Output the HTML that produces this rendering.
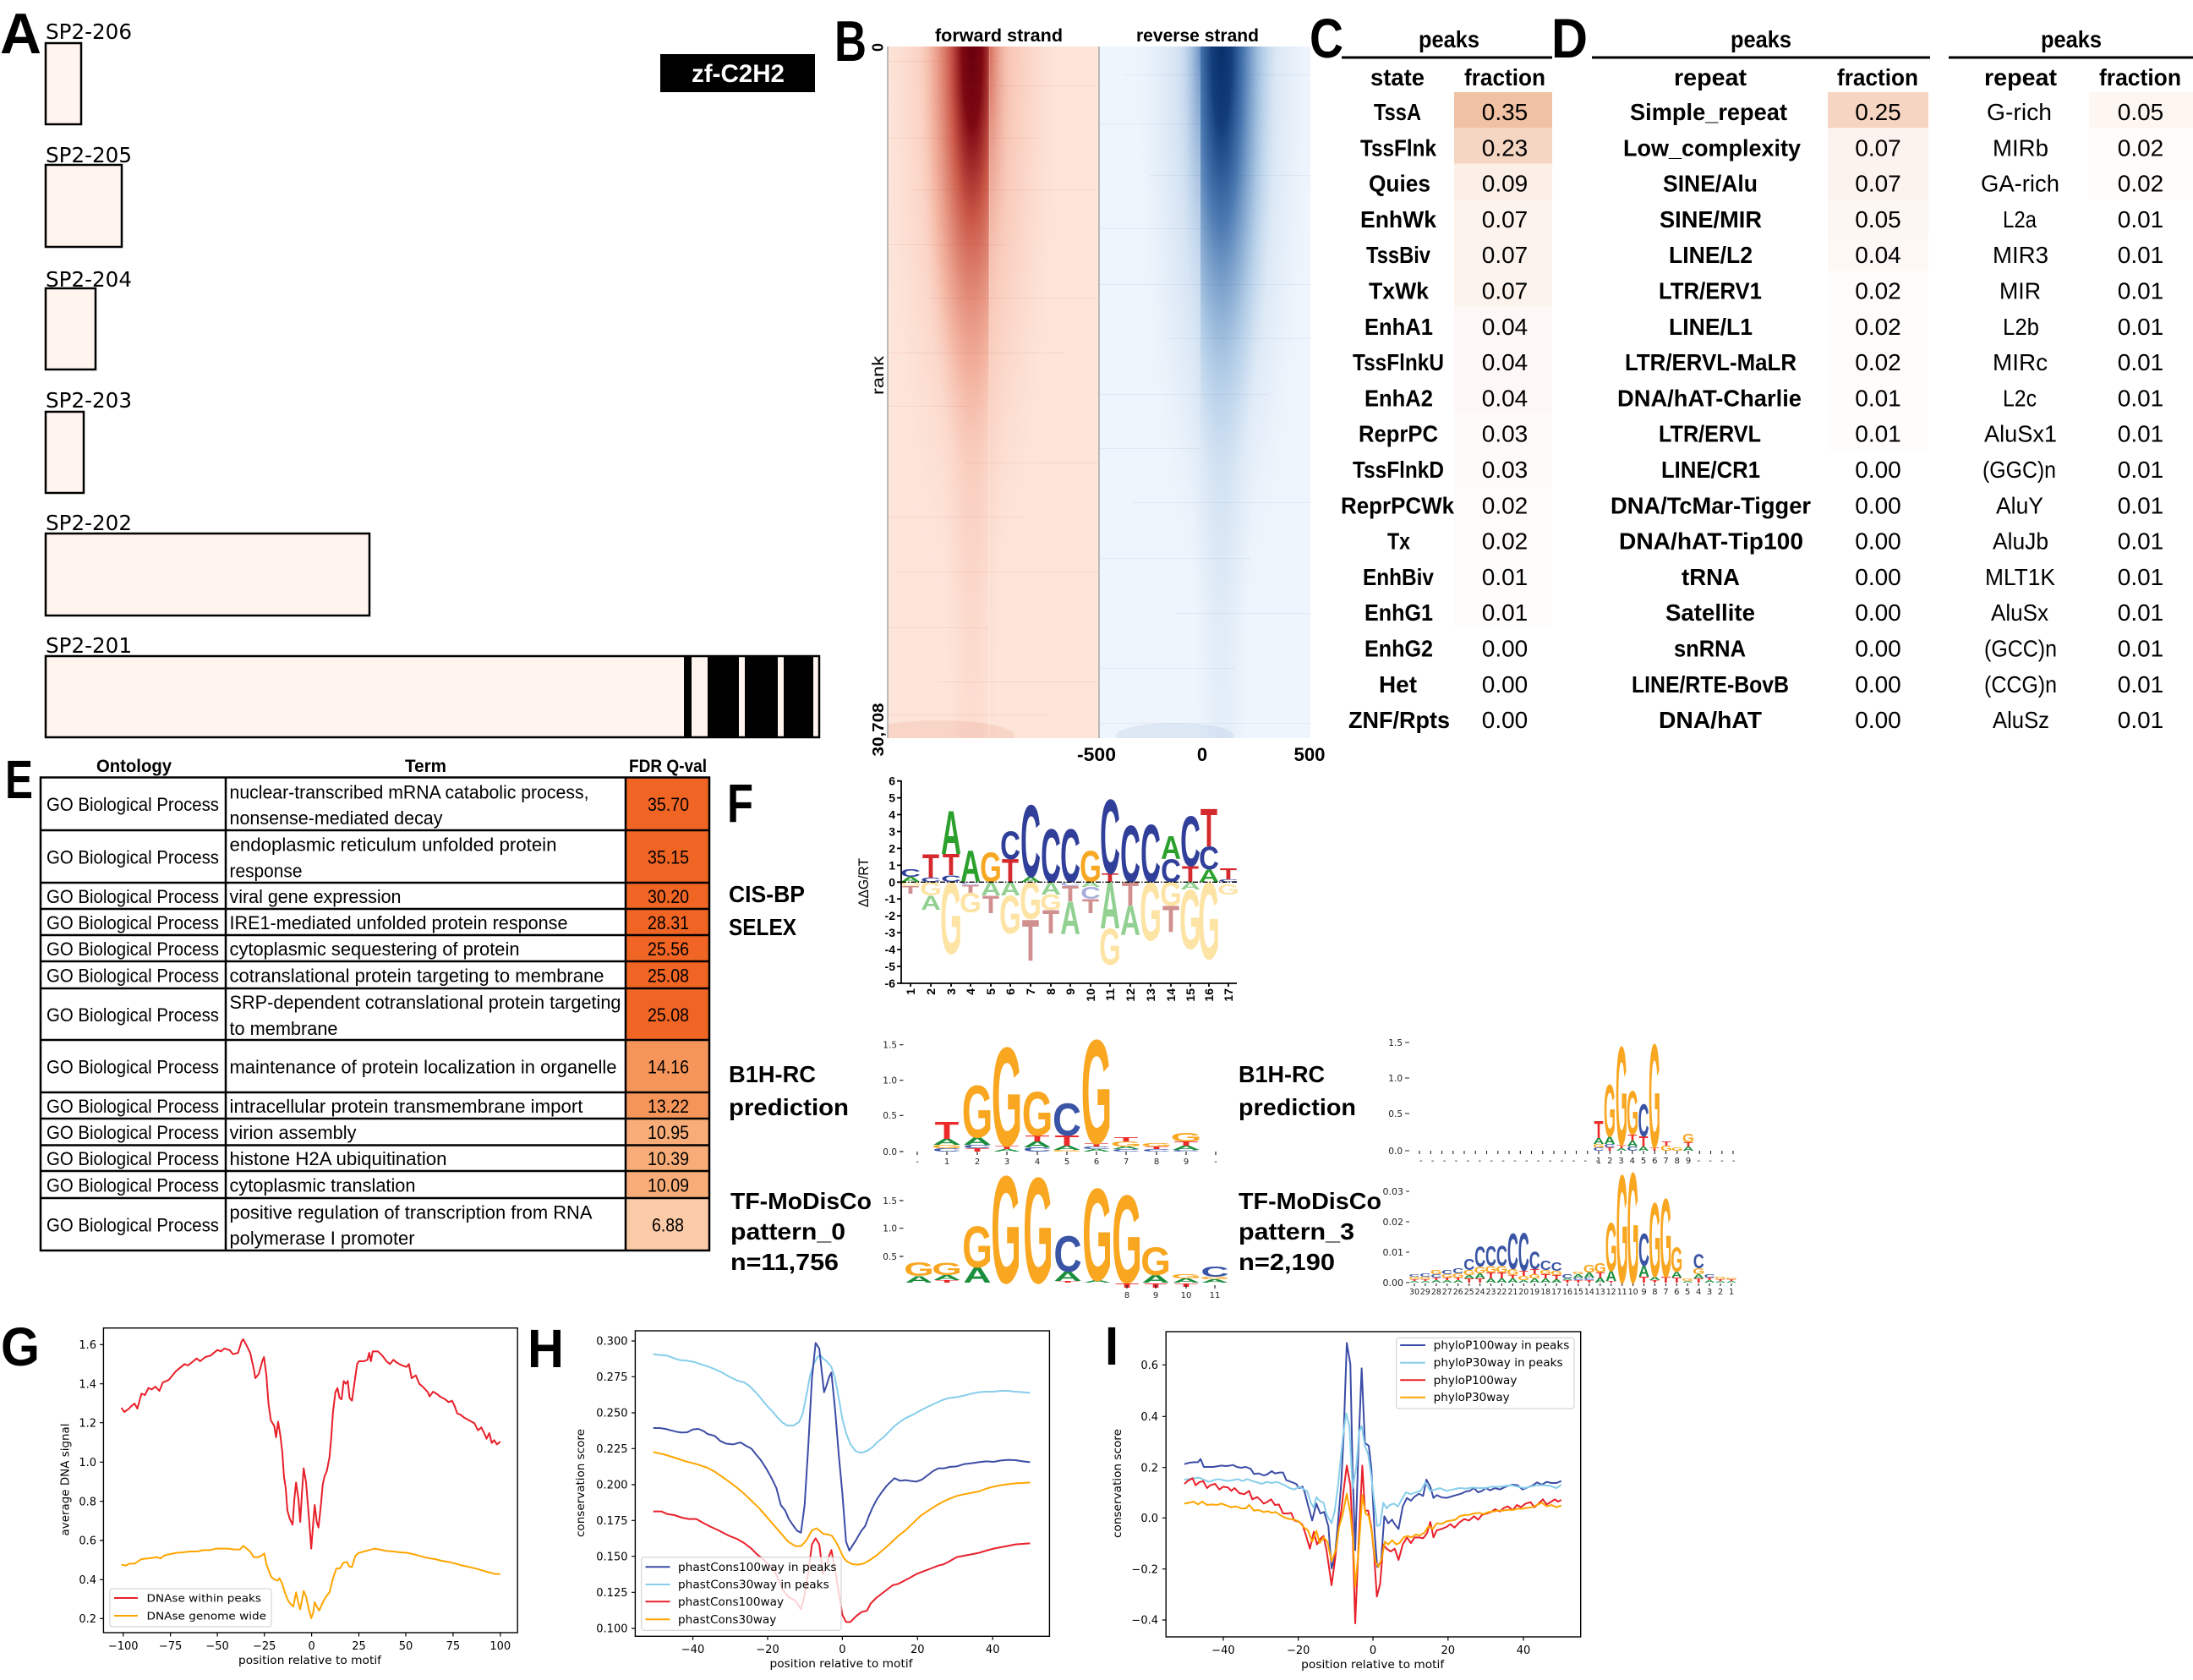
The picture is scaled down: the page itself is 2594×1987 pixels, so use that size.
<!DOCTYPE html>
<html><head><meta charset="utf-8"><style>
html,body{margin:0;padding:0;background:#fff}
svg{display:block}
.s{font-family:"Liberation Sans",Arial,sans-serif}
.b{font-weight:bold}
.dj{font-family:"DejaVu Sans","Liberation Sans",sans-serif}
.L{font-family:"Liberation Sans",Arial,sans-serif;font-weight:bold;font-size:100px;text-anchor:middle}
.A1{fill:#2ca02c}.C1{fill:#303f9a}.G1{fill:#f7a823}.T1{fill:#d42a2e}
.A2{fill:#92d192}.C2{fill:#a9aedb}.G2{fill:#fde4a5}.T2{fill:#d19090}
.A3{fill:#1a8e3d}.C3{fill:#3a55a5}.G3{fill:#f9a620}.T3{fill:#ec2a2a}
</style></head><body>
<svg width="2594" height="1987" viewBox="0 0 2594 1987" xmlns="http://www.w3.org/2000/svg">
<rect width="2594" height="1987" fill="#fff"/>
<defs>
<clipPath id="cf"><rect x="1050" y="55" width="250" height="818"/></clipPath>
<clipPath id="cfl"><rect x="1050" y="55" width="120" height="818"/></clipPath>
<clipPath id="cfr"><rect x="1170" y="55" width="130" height="818"/></clipPath>
<clipPath id="cr"><rect x="1300" y="55" width="250" height="818"/></clipPath>
<clipPath id="crl"><rect x="1300" y="55" width="120" height="818"/></clipPath>
<clipPath id="crr"><rect x="1420" y="55" width="130" height="818"/></clipPath>
<radialGradient id="rh"><stop offset="0" stop-color="#e06a50" stop-opacity=".6"/><stop offset=".5" stop-color="#f29a80" stop-opacity=".3"/><stop offset="1" stop-color="#fbd0c0" stop-opacity="0"/></radialGradient>
<radialGradient id="rc"><stop offset="0" stop-color="#67000d"/><stop offset=".18" stop-color="#7d0812"/><stop offset=".4" stop-color="#c75040" stop-opacity=".9"/><stop offset=".75" stop-color="#eea08a" stop-opacity=".5"/><stop offset="1" stop-color="#fbd0c0" stop-opacity="0"/></radialGradient>
<radialGradient id="rt"><stop offset="0" stop-color="#ee9c84" stop-opacity=".55"/><stop offset="1" stop-color="#fbd0c0" stop-opacity="0"/></radialGradient>
<radialGradient id="rl"><stop offset="0" stop-color="#c94a3a" stop-opacity=".7"/><stop offset="1" stop-color="#fbd0c0" stop-opacity="0"/></radialGradient>
<radialGradient id="bh"><stop offset="0" stop-color="#4f7fbf" stop-opacity=".55"/><stop offset=".5" stop-color="#8fb4db" stop-opacity=".3"/><stop offset="1" stop-color="#c6dbef" stop-opacity="0"/></radialGradient>
<radialGradient id="bc"><stop offset="0" stop-color="#08306b"/><stop offset=".18" stop-color="#123d7a"/><stop offset=".4" stop-color="#3f6fab" stop-opacity=".9"/><stop offset=".75" stop-color="#9dc0e0" stop-opacity=".5"/><stop offset="1" stop-color="#c6dbef" stop-opacity="0"/></radialGradient>
<radialGradient id="bt"><stop offset="0" stop-color="#a3c2e2" stop-opacity=".55"/><stop offset="1" stop-color="#c6dbef" stop-opacity="0"/></radialGradient>
<radialGradient id="bl"><stop offset="0" stop-color="#3f6fb0" stop-opacity=".65"/><stop offset="1" stop-color="#c6dbef" stop-opacity="0"/></radialGradient>
</defs>

<!-- Panel letters -->
<g class="s b" fill="#000" font-size="66">
<text x="0" y="63" font-size="68" textLength="49" lengthAdjust="spacingAndGlyphs">A</text>
<text x="987" y="72" font-size="68" textLength="38" lengthAdjust="spacingAndGlyphs">B</text>
<text x="1549" y="68" textLength="40" lengthAdjust="spacingAndGlyphs">C</text>
<text x="1835" y="68" textLength="43" lengthAdjust="spacingAndGlyphs">D</text>
<text x="6" y="944" font-size="64" textLength="33" lengthAdjust="spacingAndGlyphs">E</text>
<text x="860" y="972" font-size="64" textLength="31" lengthAdjust="spacingAndGlyphs">F</text>
<text x="1" y="1615" font-size="64" textLength="46" lengthAdjust="spacingAndGlyphs">G</text>
<text x="624" y="1617" font-size="64" textLength="43" lengthAdjust="spacingAndGlyphs">H</text>
<text x="1307" y="1614" font-size="64" textLength="16" lengthAdjust="spacingAndGlyphs">I</text>
</g>

<!-- Panel A -->
<g class="dj" font-size="25" fill="#000">
<text x="54" y="46" textLength="102" lengthAdjust="spacingAndGlyphs">SP2-206</text>
<text x="54" y="192" textLength="102" lengthAdjust="spacingAndGlyphs">SP2-205</text>
<text x="54" y="339" textLength="102" lengthAdjust="spacingAndGlyphs">SP2-204</text>
<text x="54" y="482" textLength="102" lengthAdjust="spacingAndGlyphs">SP2-203</text>
<text x="54" y="627" textLength="102" lengthAdjust="spacingAndGlyphs">SP2-202</text>
<text x="54" y="772" textLength="102" lengthAdjust="spacingAndGlyphs">SP2-201</text>
</g>
<g fill="#fff5ee" stroke="#000" stroke-width="2.5">
<rect x="54" y="51" width="42" height="96"/>
<rect x="54" y="195" width="90" height="97"/>
<rect x="54" y="341" width="59" height="96"/>
<rect x="54" y="487" width="45" height="96"/>
<rect x="54" y="631" width="383" height="97"/>
<rect x="54" y="776" width="915" height="96"/>
</g>
<g fill="#000">
<rect x="809" y="776" width="9" height="96"/>
<rect x="837" y="776" width="37" height="96"/>
<rect x="881" y="776" width="39" height="96"/>
<rect x="927" y="776" width="35" height="96"/>
<rect x="781" y="64" width="183" height="45"/>
</g>
<text x="818" y="97" class="s b" font-size="30" fill="#fff" textLength="110" lengthAdjust="spacingAndGlyphs">zf-C2H2</text>

<!-- Panel B heatmap -->
<rect x="1050" y="55" width="250" height="818" fill="#fde5da"/>
<rect x="1300" y="55" width="250" height="818" fill="#eff5fc"/>
<g clip-path="url(#cf)">
<ellipse cx="1150" cy="55" rx="110" ry="700" fill="url(#rh)"/>
<ellipse cx="1150" cy="55" rx="40" ry="1250" fill="url(#rt)"/>
<ellipse cx="1110" cy="870" rx="90" ry="18" fill="#e07a60" opacity=".15"/>
</g>
<g clip-path="url(#cfl)"><ellipse cx="1150" cy="55" rx="65" ry="520" fill="url(#rc)"/></g>
<g clip-path="url(#cfr)"><ellipse cx="1170" cy="55" rx="28" ry="330" fill="url(#rl)"/></g>
<g clip-path="url(#cr)">
<ellipse cx="1447" cy="55" rx="105" ry="700" fill="url(#bh)"/>
<ellipse cx="1445" cy="55" rx="40" ry="1250" fill="url(#bt)"/>
<ellipse cx="1390" cy="870" rx="70" ry="15" fill="#7fa3d0" opacity=".15"/>
</g>
<g clip-path="url(#crr)"><ellipse cx="1445" cy="55" rx="65" ry="520" fill="url(#bc)"/></g>
<g clip-path="url(#crl)"><ellipse cx="1420" cy="55" rx="26" ry="330" fill="url(#bl)"/></g>
<path d="M1050 72.5H1180M1120 101.5H1300M1050 163.5H1230M1080 224.5H1300M1050 289.5H1190M1100 352.5H1300M1050 417.5H1260M1050 480.5H1150M1140 547.5H1300M1050 611.5H1210M1060 676.5H1300M1050 742.5H1170M1110 806.5H1300M1050 845.5H1240" stroke="#c0392b" stroke-opacity=".09" stroke-width="1"/>
<path d="M1330 88.5H1550M1300 146.5H1470M1360 207.5H1550M1300 270.5H1450M1300 336.5H1550M1380 400.5H1550M1300 466.5H1500M1300 530.5H1420M1340 594.5H1550M1300 660.5H1480M1390 725.5H1550M1300 790.5H1460M1300 855.5H1550" stroke="#2b5797" stroke-opacity=".07" stroke-width="1"/>
<line x1="1170" y1="55" x2="1170" y2="873" stroke="#fff" stroke-opacity=".3" stroke-width="1"/>
<line x1="1050" y1="55" x2="1050" y2="873" stroke="#a8a8a8" stroke-width="1.5"/>
<line x1="1300" y1="55" x2="1300" y2="873" stroke="#a8a8a8" stroke-width="1.5"/>
<g class="s b" fill="#000">
<text x="1106" y="49" font-size="21" textLength="151" lengthAdjust="spacingAndGlyphs">forward strand</text>
<text x="1344" y="49" font-size="21" textLength="145" lengthAdjust="spacingAndGlyphs">reverse strand</text>
<text transform="translate(1044.5,56) rotate(-90)" font-size="18" text-anchor="middle">0</text>
<text transform="translate(1045,863) rotate(-90)" font-size="18" text-anchor="middle" textLength="63" lengthAdjust="spacingAndGlyphs">30,708</text>
<text x="1297" y="900" font-size="22" text-anchor="middle" textLength="46" lengthAdjust="spacingAndGlyphs">-500</text>
<text x="1422" y="900" font-size="22" text-anchor="middle">0</text>
<text x="1549" y="900" font-size="22" text-anchor="middle" textLength="37" lengthAdjust="spacingAndGlyphs">500</text>
</g>
<text class="s" transform="translate(1045,444) rotate(-90)" font-size="19" text-anchor="middle" textLength="46" lengthAdjust="spacingAndGlyphs">rank</text>

<!-- Panels C / D cell colours -->
<g>
<rect x="1720" y="109" width="116" height="42.3" fill="#f0c1a3"/>
<rect x="1720" y="151.3" width="116" height="42.3" fill="#f5d6c3"/>
<rect x="1720" y="193.6" width="116" height="42.3" fill="#fbefe7"/>
<rect x="1720" y="235.9" width="116" height="126.9" fill="#fcf3ed"/>
<rect x="1720" y="362.8" width="116" height="126.9" fill="#fdf8f5"/>
<rect x="1720" y="489.7" width="116" height="84.6" fill="#fefaf7"/>
<rect x="1720" y="574.3" width="116" height="84.6" fill="#fefbf9"/>
<rect x="1720" y="658.9" width="116" height="84.6" fill="#fffdfc"/>
<rect x="2162" y="109" width="119" height="42.3" fill="#f6d5c2"/>
<rect x="2162" y="151.3" width="119" height="84.6" fill="#fdf3ee"/>
<rect x="2162" y="235.9" width="119" height="42.3" fill="#fdf7f3"/>
<rect x="2162" y="278.2" width="119" height="42.3" fill="#fef8f5"/>
<rect x="2162" y="320.5" width="119" height="126.9" fill="#fefcfa"/>
<rect x="2162" y="447.4" width="119" height="84.6" fill="#fffdfc"/>
<rect x="2471" y="109" width="123" height="42.3" fill="#fdf6f1"/>
<rect x="2471" y="151.3" width="123" height="84.6" fill="#fffcfa"/>
</g>
<g stroke="#000" stroke-width="3">
<line x1="1587" y1="68" x2="1836" y2="68"/>
<line x1="1883" y1="68" x2="2283" y2="68"/>
<line x1="2305" y1="68" x2="2594" y2="68"/>
</g>
<g class="s b" font-size="28" fill="#000">
<text x="1678" y="56" textLength="72" lengthAdjust="spacingAndGlyphs">peaks</text>
<text x="2047" y="56" textLength="72" lengthAdjust="spacingAndGlyphs">peaks</text>
<text x="2414" y="56" textLength="72" lengthAdjust="spacingAndGlyphs">peaks</text>
<text x="1621" y="101" textLength="64" lengthAdjust="spacingAndGlyphs">state</text>
<text x="1732" y="101" textLength="96" lengthAdjust="spacingAndGlyphs">fraction</text>
<text x="1980" y="101" textLength="86" lengthAdjust="spacingAndGlyphs">repeat</text>
<text x="2173" y="101" textLength="96" lengthAdjust="spacingAndGlyphs">fraction</text>
<text x="2347" y="101" textLength="86" lengthAdjust="spacingAndGlyphs">repeat</text>
<text x="2483" y="101" textLength="97" lengthAdjust="spacingAndGlyphs">fraction</text>
<text x="1625" y="142" textLength="56" lengthAdjust="spacingAndGlyphs">TssA</text>
<text x="1609" y="184.3" textLength="90" lengthAdjust="spacingAndGlyphs">TssFlnk</text>
<text x="1619" y="226.6" textLength="73" lengthAdjust="spacingAndGlyphs">Quies</text>
<text x="1609" y="268.9" textLength="90" lengthAdjust="spacingAndGlyphs">EnhWk</text>
<text x="1616" y="311.2" textLength="76" lengthAdjust="spacingAndGlyphs">TssBiv</text>
<text x="1619" y="353.5" textLength="71" lengthAdjust="spacingAndGlyphs">TxWk</text>
<text x="1614" y="395.8" textLength="81" lengthAdjust="spacingAndGlyphs">EnhA1</text>
<text x="1600" y="438.1" textLength="108" lengthAdjust="spacingAndGlyphs">TssFlnkU</text>
<text x="1614" y="480.4" textLength="81" lengthAdjust="spacingAndGlyphs">EnhA2</text>
<text x="1607" y="522.7" textLength="94" lengthAdjust="spacingAndGlyphs">ReprPC</text>
<text x="1600" y="565" textLength="108" lengthAdjust="spacingAndGlyphs">TssFlnkD</text>
<text x="1586" y="607.3" textLength="134" lengthAdjust="spacingAndGlyphs">ReprPCWk</text>
<text x="1641" y="649.6" textLength="27" lengthAdjust="spacingAndGlyphs">Tx</text>
<text x="1612" y="691.9" textLength="84" lengthAdjust="spacingAndGlyphs">EnhBiv</text>
<text x="1614" y="734.2" textLength="81" lengthAdjust="spacingAndGlyphs">EnhG1</text>
<text x="1614" y="776.5" textLength="81" lengthAdjust="spacingAndGlyphs">EnhG2</text>
<text x="1631" y="818.8" textLength="45" lengthAdjust="spacingAndGlyphs">Het</text>
<text x="1595" y="861.1" textLength="120" lengthAdjust="spacingAndGlyphs">ZNF/Rpts</text>
<text x="1928" y="142" textLength="186" lengthAdjust="spacingAndGlyphs">Simple_repeat</text>
<text x="1920" y="184.3" textLength="210" lengthAdjust="spacingAndGlyphs">Low_complexity</text>
<text x="1967" y="226.6" textLength="112" lengthAdjust="spacingAndGlyphs">SINE/Alu</text>
<text x="1963" y="268.9" textLength="121" lengthAdjust="spacingAndGlyphs">SINE/MIR</text>
<text x="1974" y="311.2" textLength="99" lengthAdjust="spacingAndGlyphs">LINE/L2</text>
<text x="1962" y="353.5" textLength="122" lengthAdjust="spacingAndGlyphs">LTR/ERV1</text>
<text x="1974" y="395.8" textLength="99" lengthAdjust="spacingAndGlyphs">LINE/L1</text>
<text x="1922" y="438.1" textLength="203" lengthAdjust="spacingAndGlyphs">LTR/ERVL-MaLR</text>
<text x="1913" y="480.4" textLength="218" lengthAdjust="spacingAndGlyphs">DNA/hAT-Charlie</text>
<text x="1962" y="522.7" textLength="121" lengthAdjust="spacingAndGlyphs">LTR/ERVL</text>
<text x="1965" y="565" textLength="117" lengthAdjust="spacingAndGlyphs">LINE/CR1</text>
<text x="1905" y="607.3" textLength="237" lengthAdjust="spacingAndGlyphs">DNA/TcMar-Tigger</text>
<text x="1915" y="649.6" textLength="218" lengthAdjust="spacingAndGlyphs">DNA/hAT-Tip100</text>
<text x="1989" y="691.9" textLength="69" lengthAdjust="spacingAndGlyphs">tRNA</text>
<text x="1970" y="734.2" textLength="106" lengthAdjust="spacingAndGlyphs">Satellite</text>
<text x="1980" y="776.5" textLength="85" lengthAdjust="spacingAndGlyphs">snRNA</text>
<text x="1930" y="818.8" textLength="186" lengthAdjust="spacingAndGlyphs">LINE/RTE-BovB</text>
<text x="1962" y="861.1" textLength="122" lengthAdjust="spacingAndGlyphs">DNA/hAT</text>
</g>
<g class="s" font-size="28" fill="#000">
<text x="2350" y="142" textLength="77" lengthAdjust="spacingAndGlyphs">G-rich</text>
<text x="2357" y="184.3" textLength="66" lengthAdjust="spacingAndGlyphs">MIRb</text>
<text x="2343" y="226.6" textLength="93" lengthAdjust="spacingAndGlyphs">GA-rich</text>
<text x="2369" y="268.9" textLength="40" lengthAdjust="spacingAndGlyphs">L2a</text>
<text x="2357" y="311.2" textLength="66" lengthAdjust="spacingAndGlyphs">MIR3</text>
<text x="2365" y="353.5" textLength="49" lengthAdjust="spacingAndGlyphs">MIR</text>
<text x="2369" y="395.8" textLength="43" lengthAdjust="spacingAndGlyphs">L2b</text>
<text x="2357" y="438.1" textLength="65" lengthAdjust="spacingAndGlyphs">MIRc</text>
<text x="2369" y="480.4" textLength="40" lengthAdjust="spacingAndGlyphs">L2c</text>
<text x="2347" y="522.7" textLength="86" lengthAdjust="spacingAndGlyphs">AluSx1</text>
<text x="2345" y="565" textLength="87" lengthAdjust="spacingAndGlyphs">(GGC)n</text>
<text x="2361" y="607.3" textLength="56" lengthAdjust="spacingAndGlyphs">AluY</text>
<text x="2357" y="649.6" textLength="66" lengthAdjust="spacingAndGlyphs">AluJb</text>
<text x="2348" y="691.9" textLength="83" lengthAdjust="spacingAndGlyphs">MLT1K</text>
<text x="2355" y="734.2" textLength="68" lengthAdjust="spacingAndGlyphs">AluSx</text>
<text x="2347" y="776.5" textLength="86" lengthAdjust="spacingAndGlyphs">(GCC)n</text>
<text x="2347" y="818.8" textLength="86" lengthAdjust="spacingAndGlyphs">(CCG)n</text>
<text x="2357" y="861.1" textLength="67" lengthAdjust="spacingAndGlyphs">AluSz</text>
</g>
<g class="s" font-size="28" fill="#000" text-anchor="middle">
<text x="1780" y="142">0.35</text><text x="1780" y="184.3">0.23</text><text x="1780" y="226.6">0.09</text><text x="1780" y="268.9">0.07</text><text x="1780" y="311.2">0.07</text><text x="1780" y="353.5">0.07</text><text x="1780" y="395.8">0.04</text><text x="1780" y="438.1">0.04</text><text x="1780" y="480.4">0.04</text><text x="1780" y="522.7">0.03</text><text x="1780" y="565">0.03</text><text x="1780" y="607.3">0.02</text><text x="1780" y="649.6">0.02</text><text x="1780" y="691.9">0.01</text><text x="1780" y="734.2">0.01</text><text x="1780" y="776.5">0.00</text><text x="1780" y="818.8">0.00</text><text x="1780" y="861.1">0.00</text>
<text x="2221.5" y="142">0.25</text><text x="2221.5" y="184.3">0.07</text><text x="2221.5" y="226.6">0.07</text><text x="2221.5" y="268.9">0.05</text><text x="2221.5" y="311.2">0.04</text><text x="2221.5" y="353.5">0.02</text><text x="2221.5" y="395.8">0.02</text><text x="2221.5" y="438.1">0.02</text><text x="2221.5" y="480.4">0.01</text><text x="2221.5" y="522.7">0.01</text><text x="2221.5" y="565">0.00</text><text x="2221.5" y="607.3">0.00</text><text x="2221.5" y="649.6">0.00</text><text x="2221.5" y="691.9">0.00</text><text x="2221.5" y="734.2">0.00</text><text x="2221.5" y="776.5">0.00</text><text x="2221.5" y="818.8">0.00</text><text x="2221.5" y="861.1">0.00</text>
<text x="2532" y="142">0.05</text><text x="2532" y="184.3">0.02</text><text x="2532" y="226.6">0.02</text><text x="2532" y="268.9">0.01</text><text x="2532" y="311.2">0.01</text><text x="2532" y="353.5">0.01</text><text x="2532" y="395.8">0.01</text><text x="2532" y="438.1">0.01</text><text x="2532" y="480.4">0.01</text><text x="2532" y="522.7">0.01</text><text x="2532" y="565">0.01</text><text x="2532" y="607.3">0.01</text><text x="2532" y="649.6">0.01</text><text x="2532" y="691.9">0.01</text><text x="2532" y="734.2">0.01</text><text x="2532" y="776.5">0.01</text><text x="2532" y="818.8">0.01</text><text x="2532" y="861.1">0.01</text>
</g>

<!-- Panel E -->
<g>
<rect x="740" y="919.5" width="99" height="249.5" fill="#f06424"/>
<rect x="740" y="1169" width="99" height="61" fill="#f06424"/>
<rect x="740" y="1230" width="99" height="93" fill="#f5955a"/>
<rect x="740" y="1323" width="99" height="94" fill="#f8ad79"/>
<rect x="740" y="1417" width="99" height="62" fill="#fbcaa7"/>
</g>
<g stroke="#000" stroke-width="2.5" fill="none">
<rect x="48" y="919.5" width="791" height="559.5"/>
<line x1="267" y1="919.5" x2="267" y2="1479"/>
<line x1="740" y1="919.5" x2="740" y2="1479"/>
<path d="M48 982H839M48 1044H839M48 1075H839M48 1106H839M48 1137H839M48 1169H839M48 1230H839M48 1292H839M48 1323H839M48 1354.5H839M48 1385H839M48 1417H839"/>
</g>
<g class="s b" font-size="21" fill="#000">
<text x="114" y="913" textLength="89" lengthAdjust="spacingAndGlyphs">Ontology</text>
<text x="479" y="913" textLength="49" lengthAdjust="spacingAndGlyphs">Term</text>
<text x="744" y="913" textLength="92" lengthAdjust="spacingAndGlyphs">FDR Q-val</text>
</g>
<g class="s" font-size="22" fill="#000">
<text x="55" y="959" textLength="204" lengthAdjust="spacingAndGlyphs">GO Biological Process</text>
<text x="55" y="1021.5" textLength="204" lengthAdjust="spacingAndGlyphs">GO Biological Process</text>
<text x="55" y="1068" textLength="204" lengthAdjust="spacingAndGlyphs">GO Biological Process</text>
<text x="55" y="1099" textLength="204" lengthAdjust="spacingAndGlyphs">GO Biological Process</text>
<text x="55" y="1130" textLength="204" lengthAdjust="spacingAndGlyphs">GO Biological Process</text>
<text x="55" y="1161.5" textLength="204" lengthAdjust="spacingAndGlyphs">GO Biological Process</text>
<text x="55" y="1208" textLength="204" lengthAdjust="spacingAndGlyphs">GO Biological Process</text>
<text x="55" y="1269.5" textLength="204" lengthAdjust="spacingAndGlyphs">GO Biological Process</text>
<text x="55" y="1316" textLength="204" lengthAdjust="spacingAndGlyphs">GO Biological Process</text>
<text x="55" y="1347" textLength="204" lengthAdjust="spacingAndGlyphs">GO Biological Process</text>
<text x="55" y="1378" textLength="204" lengthAdjust="spacingAndGlyphs">GO Biological Process</text>
<text x="55" y="1409.5" textLength="204" lengthAdjust="spacingAndGlyphs">GO Biological Process</text>
<text x="55" y="1456.5" textLength="204" lengthAdjust="spacingAndGlyphs">GO Biological Process</text>
<text x="271.5" y="944.5" textLength="425" lengthAdjust="spacingAndGlyphs">nuclear-transcribed mRNA catabolic process,</text>
<text x="271.5" y="975" textLength="252" lengthAdjust="spacingAndGlyphs">nonsense-mediated decay</text>
<text x="271.5" y="1006.5" textLength="387" lengthAdjust="spacingAndGlyphs">endoplasmic reticulum unfolded protein</text>
<text x="271.5" y="1037.4" textLength="86" lengthAdjust="spacingAndGlyphs">response</text>
<text x="271.5" y="1068" textLength="203" lengthAdjust="spacingAndGlyphs">viral gene expression</text>
<text x="271.5" y="1099" textLength="400" lengthAdjust="spacingAndGlyphs">IRE1-mediated unfolded protein response</text>
<text x="271.5" y="1130" textLength="343" lengthAdjust="spacingAndGlyphs">cytoplasmic sequestering of protein</text>
<text x="271.5" y="1161.5" textLength="443" lengthAdjust="spacingAndGlyphs">cotranslational protein targeting to membrane</text>
<text x="271.5" y="1193" textLength="463" lengthAdjust="spacingAndGlyphs">SRP-dependent cotranslational protein targeting</text>
<text x="271.5" y="1224" textLength="128" lengthAdjust="spacingAndGlyphs">to membrane</text>
<text x="271.5" y="1269.5" textLength="458" lengthAdjust="spacingAndGlyphs">maintenance of protein localization in organelle</text>
<text x="271.5" y="1316" textLength="418" lengthAdjust="spacingAndGlyphs">intracellular protein transmembrane import</text>
<text x="271.5" y="1347" textLength="150" lengthAdjust="spacingAndGlyphs">virion assembly</text>
<text x="271.5" y="1378" textLength="257" lengthAdjust="spacingAndGlyphs">histone H2A ubiquitination</text>
<text x="271.5" y="1409.5" textLength="220" lengthAdjust="spacingAndGlyphs">cytoplasmic translation</text>
<text x="271.5" y="1441.5" textLength="429" lengthAdjust="spacingAndGlyphs">positive regulation of transcription from RNA</text>
<text x="271.5" y="1472" textLength="219" lengthAdjust="spacingAndGlyphs">polymerase I promoter</text>
</g>
<g class="s" font-size="22" fill="#000">
<text x="766" y="959" textLength="49" lengthAdjust="spacingAndGlyphs">35.70</text>
<text x="766" y="1021.5" textLength="49" lengthAdjust="spacingAndGlyphs">35.15</text>
<text x="766" y="1068" textLength="49" lengthAdjust="spacingAndGlyphs">30.20</text>
<text x="766" y="1099" textLength="49" lengthAdjust="spacingAndGlyphs">28.31</text>
<text x="766" y="1130" textLength="49" lengthAdjust="spacingAndGlyphs">25.56</text>
<text x="766" y="1161.5" textLength="49" lengthAdjust="spacingAndGlyphs">25.08</text>
<text x="766" y="1208" textLength="49" lengthAdjust="spacingAndGlyphs">25.08</text>
<text x="766" y="1269.5" textLength="49" lengthAdjust="spacingAndGlyphs">14.16</text>
<text x="766" y="1316" textLength="49" lengthAdjust="spacingAndGlyphs">13.22</text>
<text x="766" y="1347" textLength="49" lengthAdjust="spacingAndGlyphs">10.95</text>
<text x="766" y="1378" textLength="49" lengthAdjust="spacingAndGlyphs">10.39</text>
<text x="766" y="1409.5" textLength="49" lengthAdjust="spacingAndGlyphs">10.09</text>
<text x="771" y="1456.5" textLength="38" lengthAdjust="spacingAndGlyphs">6.88</text>
</g>

<!-- Panel F labels -->
<g class="s b" font-size="28" fill="#000">
<text x="862" y="1067" textLength="90" lengthAdjust="spacingAndGlyphs">CIS-BP</text>
<text x="862" y="1106" textLength="80" lengthAdjust="spacingAndGlyphs">SELEX</text>
<text x="862" y="1280" textLength="103" lengthAdjust="spacingAndGlyphs">B1H-RC</text>
<text x="862" y="1319" textLength="142" lengthAdjust="spacingAndGlyphs">prediction</text>
<text x="1465" y="1280" textLength="102" lengthAdjust="spacingAndGlyphs">B1H-RC</text>
<text x="1465" y="1319" textLength="139" lengthAdjust="spacingAndGlyphs">prediction</text>
<text x="864" y="1430" textLength="167" lengthAdjust="spacingAndGlyphs">TF-MoDisCo</text>
<text x="864" y="1466" textLength="136" lengthAdjust="spacingAndGlyphs">pattern_0</text>
<text x="864" y="1502" textLength="128" lengthAdjust="spacingAndGlyphs">n=11,756</text>
<text x="1465" y="1430" textLength="169" lengthAdjust="spacingAndGlyphs">TF-MoDisCo</text>
<text x="1465" y="1466" textLength="137" lengthAdjust="spacingAndGlyphs">pattern_3</text>
<text x="1465" y="1502" textLength="114" lengthAdjust="spacingAndGlyphs">n=2,190</text>
</g>

<!-- CIS-BP logo -->
<g>
<text class="L A1" transform="matrix(.33,0,0,.086,1077,1043)">A</text>
<text class="L C1" transform="matrix(.33,0,0,.129,1077,1037)">C</text>
<text class="L G2" transform="matrix(.33,0,0,.071,1077,1048)">G</text>
<text class="L T2" transform="matrix(.33,0,0,.129,1077,1057)">T</text>
<text class="L C1" transform="matrix(.33,0,0,.071,1101,1043)">C</text>
<text class="L T1" transform="matrix(.33,0,0,.4,1101,1038)">T</text>
<text class="L G2" transform="matrix(.33,0,0,.229,1101,1059)">G</text>
<text class="L A2" transform="matrix(.33,0,0,.243,1101,1076)">A</text>
<text class="L C1" transform="matrix(.33,0,0,.114,1125,1043)">C</text>
<text class="L T1" transform="matrix(.33,0,0,.357,1125,1035)">T</text>
<text class="L A1" transform="matrix(.33,0,0,.729,1125,1010)">A</text>
<text class="L G2" transform="matrix(.33,0,0,1.214,1125,1128)">G</text>
<text class="L A1" transform="matrix(.33,0,0,.529,1148,1043)">A</text>
<text class="L C2" transform="matrix(.33,0,0,.057,1148,1047)">C</text>
<text class="L T2" transform="matrix(.33,0,0,.129,1148,1056)">T</text>
<text class="L G2" transform="matrix(.33,0,0,.329,1148,1079)">G</text>
<text class="L G1" transform="matrix(.33,0,0,.5,1172,1043)">G</text>
<text class="L A2" transform="matrix(.33,0,0,.229,1172,1059)">A</text>
<text class="L T2" transform="matrix(.33,0,0,.3,1172,1080)">T</text>
<text class="L T1" transform="matrix(.33,0,0,.386,1195,1043)">T</text>
<text class="L C1" transform="matrix(.33,0,0,.471,1195,1016)">C</text>
<text class="L A2" transform="matrix(.33,0,0,.229,1195,1059)">A</text>
<text class="L G2" transform="matrix(.33,0,0,.643,1195,1104)">G</text>
<text class="L A1" transform="matrix(.33,0,0,.086,1219,1043)">A</text>
<text class="L C1" transform="matrix(.33,0,0,1.214,1219,1037)">C</text>
<text class="L G2" transform="matrix(.33,0,0,.629,1219,1087)">G</text>
<text class="L T2" transform="matrix(.33,0,0,.7,1219,1136)">T</text>
<text class="L C1" transform="matrix(.33,0,0,.9,1243,1043)">C</text>
<text class="L A2" transform="matrix(.33,0,0,.214,1243,1058)">A</text>
<text class="L G2" transform="matrix(.33,0,0,.257,1243,1076)">G</text>
<text class="L T2" transform="matrix(.33,0,0,.4,1243,1104)">T</text>
<text class="L C1" transform="matrix(.33,0,0,.9,1266,1043)">C</text>
<text class="L C2" transform="matrix(.33,0,0,.071,1266,1048)">C</text>
<text class="L T2" transform="matrix(.33,0,0,.257,1266,1066)">T</text>
<text class="L A2" transform="matrix(.33,0,0,.557,1266,1105)">A</text>
<text class="L G1" transform="matrix(.33,0,0,.529,1290,1043)">G</text>
<text class="L A2" transform="matrix(.33,0,0,.086,1290,1049)">A</text>
<text class="L C2" transform="matrix(.33,0,0,.2,1290,1063)">C</text>
<text class="L T2" transform="matrix(.33,0,0,.243,1290,1080)">T</text>
<text class="L T1" transform="matrix(.33,0,0,.143,1313,1043)">T</text>
<text class="L C1" transform="matrix(.33,0,0,1.257,1313,1033)">C</text>
<text class="L A2" transform="matrix(.33,0,0,.786,1313,1098)">A</text>
<text class="L G2" transform="matrix(.33,0,0,.614,1313,1141)">G</text>
<text class="L C1" transform="matrix(.33,0,0,.957,1337,1043)">C</text>
<text class="L T2" transform="matrix(.33,0,0,.4,1337,1071)">T</text>
<text class="L A2" transform="matrix(.33,0,0,.5,1337,1106)">A</text>
<text class="L C1" transform="matrix(.33,0,0,.971,1361,1043)">C</text>
<text class="L G2" transform="matrix(.33,0,0,.986,1361,1112)">G</text>
<text class="L C1" transform="matrix(.33,0,0,.386,1385,1043)">C</text>
<text class="L A1" transform="matrix(.33,0,0,.386,1385,1016)">A</text>
<text class="L G2" transform="matrix(.33,0,0,.4,1385,1071)">G</text>
<text class="L T2" transform="matrix(.33,0,0,.443,1385,1102)">T</text>
<text class="L T1" transform="matrix(.33,0,0,.271,1408,1043)">T</text>
<text class="L C1" transform="matrix(.33,0,0,.843,1408,1024)">C</text>
<text class="L A2" transform="matrix(.33,0,0,.129,1408,1052)">A</text>
<text class="L G2" transform="matrix(.33,0,0,1,1408,1122)">G</text>
<text class="L A1" transform="matrix(.33,0,0,.214,1430,1043)">A</text>
<text class="L C1" transform="matrix(.33,0,0,.386,1430,1028)">C</text>
<text class="L T1" transform="matrix(.33,0,0,.643,1430,1001)">T</text>
<text class="L G2" transform="matrix(.33,0,0,1.3,1430,1134)">G</text>
<text class="L C1" transform="matrix(.33,0,0,.043,1453,1043)">C</text>
<text class="L T1" transform="matrix(.33,0,0,.186,1453,1040)">T</text>
<text class="L G2" transform="matrix(.33,0,0,.171,1453,1058)">G</text>
</g>
<line x1="1066" y1="1043.3" x2="1463" y2="1043.3" stroke="#000" stroke-width="1.3" stroke-dasharray="6 2 1.5 2"/>
<g stroke="#000" stroke-width="1.8" fill="none">
<path d="M1066 923V1163H1463"/>
<path d="M1061 923.7H1066M1061 943.6H1066M1061 963.5H1066M1061 983.5H1066M1061 1003.4H1066M1061 1023.4H1066M1061 1043.3H1066M1061 1063.2H1066M1061 1083.2H1066M1061 1103.1H1066M1061 1123.1H1066M1061 1143H1066M1061 1162.9H1066"/>
<path d="M1077 1163v4M1101 1163v4M1125 1163v4M1148 1163v4M1172 1163v4M1195 1163v4M1219 1163v4M1243 1163v4M1266 1163v4M1290 1163v4M1313 1163v4M1337 1163v4M1361 1163v4M1385 1163v4M1408 1163v4M1430 1163v4M1453 1163v4"/>
</g>
<g class="s b" font-size="14" fill="#000" text-anchor="end">
<text x="1059" y="928.7">6</text><text x="1059" y="948.6">5</text><text x="1059" y="968.5">4</text><text x="1059" y="988.5">3</text><text x="1059" y="1008.4">2</text><text x="1059" y="1028.4">1</text><text x="1059" y="1048.3">0</text><text x="1059" y="1068.2">-1</text><text x="1059" y="1088.2">-2</text><text x="1059" y="1108.1">-3</text><text x="1059" y="1128.1">-4</text><text x="1059" y="1148">-5</text><text x="1059" y="1167.9">-6</text>
<text transform="translate(1082,1169) rotate(-90)">1</text><text transform="translate(1106,1169) rotate(-90)">2</text><text transform="translate(1130,1169) rotate(-90)">3</text><text transform="translate(1153,1169) rotate(-90)">4</text><text transform="translate(1177,1169) rotate(-90)">5</text><text transform="translate(1200,1169) rotate(-90)">6</text><text transform="translate(1224,1169) rotate(-90)">7</text><text transform="translate(1248,1169) rotate(-90)">8</text><text transform="translate(1271,1169) rotate(-90)">9</text><text transform="translate(1295,1169) rotate(-90)">10</text><text transform="translate(1318,1169) rotate(-90)">11</text><text transform="translate(1342,1169) rotate(-90)">12</text><text transform="translate(1366,1169) rotate(-90)">13</text><text transform="translate(1390,1169) rotate(-90)">14</text><text transform="translate(1413,1169) rotate(-90)">15</text><text transform="translate(1435,1169) rotate(-90)">16</text><text transform="translate(1458,1169) rotate(-90)">17</text>
</g>
<text class="s" transform="translate(1027,1044) rotate(-90)" font-size="17" text-anchor="middle" textLength="58" lengthAdjust="spacingAndGlyphs">ΔΔG/RT</text>

<!-- B1H-RC left logo -->
<g>
<text class="L C3" transform="matrix(.47,0,0,.057,1120,1362)">C</text>
<text class="L G3" transform="matrix(.47,0,0,.057,1120,1358)">G</text>
<text class="L A3" transform="matrix(.47,0,0,.1,1120,1354)">A</text>
<text class="L T3" transform="matrix(.47,0,0,.286,1120,1347)">T</text>
<text class="L T3" transform="matrix(.47,0,0,.057,1156,1362)">T</text>
<text class="L C3" transform="matrix(.47,0,0,.057,1156,1358)">C</text>
<text class="L A3" transform="matrix(.47,0,0,.129,1156,1354)">A</text>
<text class="L G3" transform="matrix(.47,0,0,.886,1156,1345)">G</text>
<text class="L A3" transform="matrix(.47,0,0,.043,1191,1362)">A</text>
<text class="L T3" transform="matrix(.47,0,0,.057,1191,1359)">T</text>
<text class="L G3" transform="matrix(.47,0,0,1.671,1191,1355)">G</text>
<text class="L C3" transform="matrix(.47,0,0,.071,1227,1362)">C</text>
<text class="L A3" transform="matrix(.47,0,0,.1,1227,1357)">A</text>
<text class="L T3" transform="matrix(.47,0,0,.1,1227,1350)">T</text>
<text class="L G3" transform="matrix(.47,0,0,.743,1227,1343)">G</text>
<text class="L G3" transform="matrix(.47,0,0,.03,1262,1362)">G</text>
<text class="L A3" transform="matrix(.47,0,0,.071,1262,1360)">A</text>
<text class="L T3" transform="matrix(.47,0,0,.171,1262,1355)">T</text>
<text class="L C3" transform="matrix(.47,0,0,.543,1262,1343)">C</text>
<text class="L A3" transform="matrix(.47,0,0,.043,1297,1362)">A</text>
<text class="L C3" transform="matrix(.47,0,0,.043,1297,1359)">C</text>
<text class="L T3" transform="matrix(.47,0,0,.057,1297,1356)">T</text>
<text class="L G3" transform="matrix(.47,0,0,1.757,1297,1352)">G</text>
<text class="L C3" transform="matrix(.47,0,0,.043,1332,1362)">C</text>
<text class="L A3" transform="matrix(.47,0,0,.043,1332,1359)">A</text>
<text class="L G3" transform="matrix(.47,0,0,.086,1332,1356)">G</text>
<text class="L T3" transform="matrix(.47,0,0,.071,1332,1350)">T</text>
<text class="L C3" transform="matrix(.47,0,0,.043,1368,1362)">C</text>
<text class="L T3" transform="matrix(.47,0,0,.043,1368,1359)">T</text>
<text class="L G3" transform="matrix(.47,0,0,.057,1368,1356)">G</text>
<text class="L C3" transform="matrix(.47,0,0,.03,1403,1362)">C</text>
<text class="L A3" transform="matrix(.47,0,0,.071,1403,1360)">A</text>
<text class="L T3" transform="matrix(.47,0,0,.071,1403,1355)">T</text>
<text class="L G3" transform="matrix(.47,0,0,.143,1403,1350)">G</text>
</g>
<g stroke="#222" stroke-width="1.2">
<path d="M1064 1235.7H1068.5M1064 1277.7H1068.5M1064 1319.3H1068.5M1064 1362H1068.5"/>
<path d="M1085 1362v4M1120 1362v4M1156 1362v4M1191 1362v4M1227 1362v4M1262 1362v4M1297 1362v4M1332 1362v4M1368 1362v4M1403 1362v4M1438 1362v4"/>
</g>
<g class="dj" font-size="10.5" fill="#222" text-anchor="end">
<text x="1061" y="1239.5">1.5</text><text x="1061" y="1281.5">1.0</text><text x="1061" y="1323">0.5</text><text x="1061" y="1366">0.0</text>
</g>
<g class="dj" font-size="10" fill="#222" text-anchor="middle">
<text x="1085" y="1377">-</text><text x="1120" y="1377">1</text><text x="1156" y="1377">2</text><text x="1191" y="1377">3</text><text x="1227" y="1377">4</text><text x="1262" y="1377">5</text><text x="1297" y="1377">6</text><text x="1332" y="1377">7</text><text x="1368" y="1377">8</text><text x="1403" y="1377">9</text><text x="1438" y="1377">-</text>
</g>

<!-- B1H-RC right logo -->
<g>
<text class="L C3" transform="matrix(.18,0,0,.057,1891,1361)">C</text>
<text class="L G3" transform="matrix(.18,0,0,.057,1891,1357)">G</text>
<text class="L A3" transform="matrix(.18,0,0,.1,1891,1353)">A</text>
<text class="L T3" transform="matrix(.18,0,0,.286,1891,1346)">T</text>
<text class="L T3" transform="matrix(.18,0,0,.057,1904,1361)">T</text>
<text class="L C3" transform="matrix(.18,0,0,.057,1904,1357)">C</text>
<text class="L A3" transform="matrix(.18,0,0,.129,1904,1353)">A</text>
<text class="L G3" transform="matrix(.18,0,0,.886,1904,1344)">G</text>
<text class="L A3" transform="matrix(.18,0,0,.043,1918,1361)">A</text>
<text class="L T3" transform="matrix(.18,0,0,.057,1918,1358)">T</text>
<text class="L G3" transform="matrix(.18,0,0,1.671,1918,1354)">G</text>
<text class="L C3" transform="matrix(.18,0,0,.071,1931,1361)">C</text>
<text class="L A3" transform="matrix(.18,0,0,.1,1931,1356)">A</text>
<text class="L T3" transform="matrix(.18,0,0,.1,1931,1349)">T</text>
<text class="L G3" transform="matrix(.18,0,0,.743,1931,1342)">G</text>
<text class="L A3" transform="matrix(.18,0,0,.071,1944,1361)">A</text>
<text class="L T3" transform="matrix(.18,0,0,.171,1944,1356)">T</text>
<text class="L C3" transform="matrix(.18,0,0,.543,1944,1344)">C</text>
<text class="L T3" transform="matrix(.18,0,0,.057,1957,1361)">T</text>
<text class="L G3" transform="matrix(.18,0,0,1.757,1957,1357)">G</text>
<text class="L G3" transform="matrix(.18,0,0,.086,1971,1361)">G</text>
<text class="L T3" transform="matrix(.18,0,0,.071,1971,1355)">T</text>
<text class="L G3" transform="matrix(.18,0,0,.057,1984,1361)">G</text>
<text class="L A3" transform="matrix(.18,0,0,.071,1997,1361)">A</text>
<text class="L T3" transform="matrix(.18,0,0,.071,1997,1356)">T</text>
<text class="L G3" transform="matrix(.18,0,0,.143,1997,1351)">G</text>
</g>
<g stroke="#222" stroke-width="1.1">
<path d="M1662 1233H1667M1662 1275H1667M1662 1317H1667M1662 1361H1667"/>
<path d="M1679 1361v4M1692.3 1361v4M1705.5 1361v4M1718.8 1361v4M1732 1361v4M1745.3 1361v4M1758.5 1361v4M1771.8 1361v4M1785 1361v4M1798.3 1361v4M1811.5 1361v4M1824.8 1361v4M1838 1361v4M1851.3 1361v4M1864.5 1361v4M1877.8 1361v4M1891 1361v4M1904.3 1361v4M1917.5 1361v4M1930.8 1361v4M1944 1361v4M1957.3 1361v4M1970.5 1361v4M1983.8 1361v4M1997 1361v4M2010.3 1361v4M2023.5 1361v4M2036.8 1361v4M2050 1361v4"/>
</g>
<g class="dj" font-size="10.5" fill="#222" text-anchor="end">
<text x="1659" y="1237">1.5</text><text x="1659" y="1279">1.0</text><text x="1659" y="1321">0.5</text><text x="1659" y="1365">0.0</text>
</g>
<g class="dj" font-size="10" fill="#222" text-anchor="middle">
<text x="1891" y="1376">1</text><text x="1904.3" y="1376">2</text><text x="1917.5" y="1376">3</text><text x="1930.8" y="1376">4</text><text x="1944" y="1376">5</text><text x="1957.3" y="1376">6</text><text x="1970.5" y="1376">7</text><text x="1983.8" y="1376">8</text><text x="1997" y="1376">9</text>
<text x="1785" y="1376" textLength="212" lengthAdjust="spacing" text-anchor="middle">- - - - - - - - - - - - - - - -</text>
<text x="2030" y="1376" textLength="45" lengthAdjust="spacing" text-anchor="middle">- - - -</text>
</g>

<!-- TF-MoDisCo pattern_0 -->
<g>
<text class="L A3" transform="matrix(.46,0,0,.114,1087,1517)">A</text>
<text class="L G3" transform="matrix(.46,0,0,.229,1087,1509)">G</text>
<text class="L T3" transform="matrix(.46,0,0,.043,1120,1517)">T</text>
<text class="L A3" transform="matrix(.46,0,0,.086,1120,1514)">A</text>
<text class="L G3" transform="matrix(.46,0,0,.214,1120,1508)">G</text>
<text class="L A3" transform="matrix(.46,0,0,.257,1156,1517)">A</text>
<text class="L G3" transform="matrix(.46,0,0,.7,1156,1499)">G</text>
<text class="L G3" transform="matrix(.46,0,0,1.814,1190,1517)">G</text>
<text class="L G3" transform="matrix(.46,0,0,1.786,1228,1517)">G</text>
<text class="L T3" transform="matrix(.46,0,0,.029,1263,1517)">T</text>
<text class="L A3" transform="matrix(.46,0,0,.157,1263,1515)">A</text>
<text class="L C3" transform="matrix(.46,0,0,.6,1263,1504)">C</text>
<text class="L A3" transform="matrix(.46,0,0,.043,1298,1517)">A</text>
<text class="L G3" transform="matrix(.46,0,0,1.557,1298,1514)">G</text>
<text class="L G3" transform="matrix(.46,0,0,1.486,1333,1517)">G</text>
<text class="L T3" transform="matrix(.46,0,0,.071,1333,1523)">T</text>
<text class="L A3" transform="matrix(.46,0,0,.129,1367,1517)">A</text>
<text class="L G3" transform="matrix(.46,0,0,.471,1367,1508)">G</text>
<text class="L T3" transform="matrix(.46,0,0,.071,1367,1523)">T</text>
<text class="L A3" transform="matrix(.46,0,0,.071,1403,1517)">A</text>
<text class="L G3" transform="matrix(.46,0,0,.071,1403,1512)">G</text>
<text class="L T3" transform="matrix(.46,0,0,.057,1403,1522)">T</text>
<text class="L A3" transform="matrix(.46,0,0,.057,1437,1517)">A</text>
<text class="L G3" transform="matrix(.46,0,0,.043,1437,1513)">G</text>
<text class="L C3" transform="matrix(.46,0,0,.171,1437,1510)">C</text>
</g>
<g stroke="#222" stroke-width="1.2">
<path d="M1064 1420H1068.5M1064 1452.7H1068.5M1064 1486H1068.5"/>
<path d="M1333 1520v4M1367 1520v4M1403 1520v4M1437 1520v4"/>
</g>
<g class="dj" font-size="10.5" fill="#222" text-anchor="end">
<text x="1061" y="1424">1.5</text><text x="1061" y="1456.5">1.0</text><text x="1061" y="1490">0.5</text>
</g>
<g class="dj" font-size="10" fill="#222" text-anchor="middle">
<text x="1333" y="1535">8</text><text x="1367" y="1535">9</text><text x="1403" y="1535">10</text><text x="1437" y="1535">11</text>
</g>

<!-- TF-MoDisCo pattern_3 -->
<g>
<text class="L A3" transform="matrix(.18,0,0,.029,1673,1517)">A</text><text class="L T3" transform="matrix(.18,0,0,.029,1673,1515)">T</text><text class="L G3" transform="matrix(.18,0,0,.043,1673,1513)">G</text><text class="L C3" transform="matrix(.18,0,0,.043,1673,1510)">C</text>
<text class="L A3" transform="matrix(.18,0,0,.029,1685.9,1517)">A</text><text class="L T3" transform="matrix(.18,0,0,.029,1685.9,1515)">T</text><text class="L G3" transform="matrix(.18,0,0,.043,1685.9,1513)">G</text><text class="L C3" transform="matrix(.18,0,0,.057,1685.9,1510)">C</text>
<text class="L A3" transform="matrix(.18,0,0,.043,1698.9,1517)">A</text><text class="L T3" transform="matrix(.18,0,0,.043,1698.9,1514)">T</text><text class="L C3" transform="matrix(.18,0,0,.057,1698.9,1511)">C</text><text class="L G3" transform="matrix(.18,0,0,.071,1698.9,1507)">G</text>
<text class="L A3" transform="matrix(.18,0,0,.043,1711.8,1517)">A</text><text class="L T3" transform="matrix(.18,0,0,.043,1711.8,1514)">T</text><text class="L G3" transform="matrix(.18,0,0,.057,1711.8,1511)">G</text><text class="L C3" transform="matrix(.18,0,0,.071,1711.8,1507)">C</text>
<text class="L A3" transform="matrix(.18,0,0,.043,1724.7,1517)">A</text><text class="L T3" transform="matrix(.18,0,0,.043,1724.7,1514)">T</text><text class="L G3" transform="matrix(.18,0,0,.071,1724.7,1511)">G</text><text class="L C3" transform="matrix(.18,0,0,.086,1724.7,1506)">C</text>
<text class="L T3" transform="matrix(.18,0,0,.071,1737.7,1517)">T</text><text class="L A3" transform="matrix(.18,0,0,.057,1737.7,1512)">A</text><text class="L G3" transform="matrix(.18,0,0,.086,1737.7,1508)">G</text><text class="L C3" transform="matrix(.18,0,0,.186,1737.7,1502)">C</text>
<text class="L T3" transform="matrix(.18,0,0,.071,1750.6,1517)">T</text><text class="L A3" transform="matrix(.18,0,0,.086,1750.6,1512)">A</text><text class="L G3" transform="matrix(.18,0,0,.114,1750.6,1506)">G</text><text class="L C3" transform="matrix(.18,0,0,.343,1750.6,1498)">C</text>
<text class="L A3" transform="matrix(.18,0,0,.071,1763.5,1517)">A</text><text class="L T3" transform="matrix(.18,0,0,.1,1763.5,1512)">T</text><text class="L G3" transform="matrix(.18,0,0,.114,1763.5,1505)">G</text><text class="L C3" transform="matrix(.18,0,0,.329,1763.5,1497)">C</text>
<text class="L A3" transform="matrix(.18,0,0,.071,1776.4,1517)">A</text><text class="L T3" transform="matrix(.18,0,0,.1,1776.4,1512)">T</text><text class="L G3" transform="matrix(.18,0,0,.114,1776.4,1505)">G</text><text class="L C3" transform="matrix(.18,0,0,.343,1776.4,1497)">C</text>
<text class="L A3" transform="matrix(.18,0,0,.071,1789.4,1517)">A</text><text class="L T3" transform="matrix(.18,0,0,.057,1789.4,1512)">T</text><text class="L G3" transform="matrix(.18,0,0,.1,1789.4,1508)">G</text><text class="L C3" transform="matrix(.18,0,0,.6,1789.4,1501)">C</text>
<text class="L A3" transform="matrix(.18,0,0,.043,1802.3,1517)">A</text><text class="L G3" transform="matrix(.18,0,0,.071,1802.3,1514)">G</text><text class="L T3" transform="matrix(.18,0,0,.086,1802.3,1509)">T</text><text class="L C3" transform="matrix(.18,0,0,.643,1802.3,1503)">C</text>
<text class="L A3" transform="matrix(.18,0,0,.071,1815.2,1517)">A</text><text class="L G3" transform="matrix(.18,0,0,.071,1815.2,1512)">G</text><text class="L T3" transform="matrix(.18,0,0,.086,1815.2,1507)">T</text><text class="L C3" transform="matrix(.18,0,0,.3,1815.2,1501)">C</text>
<text class="L A3" transform="matrix(.18,0,0,.071,1828.2,1517)">A</text><text class="L T3" transform="matrix(.18,0,0,.071,1828.2,1512)">T</text><text class="L G3" transform="matrix(.18,0,0,.071,1828.2,1507)">G</text><text class="L C3" transform="matrix(.18,0,0,.157,1828.2,1502)">C</text>
<text class="L A3" transform="matrix(.18,0,0,.057,1841.1,1517)">A</text><text class="L T3" transform="matrix(.18,0,0,.071,1841.1,1513)">T</text><text class="L G3" transform="matrix(.18,0,0,.071,1841.1,1508)">G</text><text class="L C3" transform="matrix(.18,0,0,.143,1841.1,1503)">C</text>
<text class="L T3" transform="matrix(.18,0,0,.043,1854,1517)">T</text><text class="L A3" transform="matrix(.18,0,0,.029,1854,1514)">A</text><text class="L C3" transform="matrix(.18,0,0,.071,1854,1512)">C</text>
<text class="L T3" transform="matrix(.18,0,0,.043,1866.9,1517)">T</text><text class="L C3" transform="matrix(.18,0,0,.043,1866.9,1514)">C</text><text class="L A3" transform="matrix(.18,0,0,.057,1866.9,1511)">A</text><text class="L G3" transform="matrix(.18,0,0,.043,1866.9,1507)">G</text>
<text class="L T3" transform="matrix(.18,0,0,.043,1879.9,1517)">T</text><text class="L C3" transform="matrix(.18,0,0,.043,1879.9,1514)">C</text><text class="L A3" transform="matrix(.18,0,0,.086,1879.9,1511)">A</text><text class="L G3" transform="matrix(.18,0,0,.129,1879.9,1505)">G</text>
<text class="L A3" transform="matrix(.18,0,0,.086,1892.8,1517)">A</text><text class="L T3" transform="matrix(.18,0,0,.086,1892.8,1511)">T</text><text class="L G3" transform="matrix(.18,0,0,.157,1892.8,1505)">G</text>
<text class="L T3" transform="matrix(.18,0,0,.029,1905.7,1517)">T</text><text class="L A3" transform="matrix(.18,0,0,.171,1905.7,1515)">A</text><text class="L G3" transform="matrix(.18,0,0,.814,1905.7,1503)">G</text>
<text class="L G3" transform="matrix(.18,0,0,1.829,1918.7,1517)">G</text>
<text class="L G3" transform="matrix(.18,0,0,1.871,1931.6,1517)">G</text>
<text class="L T3" transform="matrix(.18,0,0,.1,1944.5,1517)">T</text><text class="L A3" transform="matrix(.18,0,0,.186,1944.5,1510)">A</text><text class="L C3" transform="matrix(.18,0,0,.543,1944.5,1497)">C</text>
<text class="L T3" transform="matrix(.18,0,0,.043,1957.4,1517)">T</text><text class="L A3" transform="matrix(.18,0,0,.057,1957.4,1514)">A</text><text class="L G3" transform="matrix(.18,0,0,1.257,1957.4,1510)">G</text>
<text class="L T3" transform="matrix(.18,0,0,.1,1970.4,1517)">T</text><text class="L G3" transform="matrix(.18,0,0,1.329,1970.4,1510)">G</text>
<text class="L T3" transform="matrix(.18,0,0,.086,1983.3,1517)">T</text><text class="L A3" transform="matrix(.18,0,0,.1,1983.3,1511)">A</text><text class="L G3" transform="matrix(.18,0,0,.414,1983.3,1504)">G</text>
<text class="L A3" transform="matrix(.18,0,0,.029,1996.2,1517)">A</text><text class="L G3" transform="matrix(.18,0,0,.043,1996.2,1515)">G</text>
<text class="L T3" transform="matrix(.18,0,0,.071,2009.2,1517)">T</text><text class="L A3" transform="matrix(.18,0,0,.071,2009.2,1512)">A</text><text class="L G3" transform="matrix(.18,0,0,.1,2009.2,1507)">G</text><text class="L C3" transform="matrix(.18,0,0,.243,2009.2,1500)">C</text>
<text class="L A3" transform="matrix(.18,0,0,.043,2022.1,1517)">A</text><text class="L T3" transform="matrix(.18,0,0,.043,2022.1,1514)">T</text><text class="L C3" transform="matrix(.18,0,0,.057,2022.1,1511)">C</text>
<text class="L A3" transform="matrix(.18,0,0,.029,2035,1517)">A</text><text class="L T3" transform="matrix(.18,0,0,.029,2035,1515)">T</text><text class="L G3" transform="matrix(.18,0,0,.043,2035,1513)">G</text>
<text class="L A3" transform="matrix(.18,0,0,.029,2048,1517)">A</text><text class="L T3" transform="matrix(.18,0,0,.029,2048,1515)">T</text><text class="L G3" transform="matrix(.18,0,0,.029,2048,1513)">G</text>
</g>
<g stroke="#222" stroke-width="1.1">
<path d="M1663 1409H1667M1663 1445H1667M1663 1481H1667M1663 1517H1667"/>
<path d="M1673 1518v3M1685.9 1518v3M1698.9 1518v3M1711.8 1518v3M1724.7 1518v3M1737.7 1518v3M1750.6 1518v3M1763.5 1518v3M1776.4 1518v3M1789.4 1518v3M1802.3 1518v3M1815.2 1518v3M1828.2 1518v3M1841.1 1518v3M1854 1518v3M1866.9 1518v3M1879.9 1518v3M1892.8 1518v3M1905.7 1518v3M1918.7 1518v3M1931.6 1518v3M1944.5 1518v3M1957.4 1518v3M1970.4 1518v3M1983.3 1518v3M1996.2 1518v3M2009.2 1518v3M2022.1 1518v3M2035 1518v3M2048 1518v3"/>
</g>
<g class="dj" font-size="11" fill="#222" text-anchor="end">
<text x="1660" y="1413">0.03</text><text x="1660" y="1449">0.02</text><text x="1660" y="1485">0.01</text><text x="1660" y="1521">0.00</text>
</g>
<g class="dj" font-size="10" fill="#222" text-anchor="middle">
<text x="1673" y="1531" textLength="12" lengthAdjust="spacingAndGlyphs">30</text><text x="1685.9" y="1531" textLength="12" lengthAdjust="spacingAndGlyphs">29</text><text x="1698.9" y="1531" textLength="12" lengthAdjust="spacingAndGlyphs">28</text><text x="1711.8" y="1531" textLength="12" lengthAdjust="spacingAndGlyphs">27</text><text x="1724.7" y="1531" textLength="12" lengthAdjust="spacingAndGlyphs">26</text><text x="1737.7" y="1531" textLength="12" lengthAdjust="spacingAndGlyphs">25</text><text x="1750.6" y="1531" textLength="12" lengthAdjust="spacingAndGlyphs">24</text><text x="1763.5" y="1531" textLength="12" lengthAdjust="spacingAndGlyphs">23</text><text x="1776.4" y="1531" textLength="12" lengthAdjust="spacingAndGlyphs">22</text><text x="1789.4" y="1531" textLength="12" lengthAdjust="spacingAndGlyphs">21</text><text x="1802.3" y="1531" textLength="12" lengthAdjust="spacingAndGlyphs">20</text><text x="1815.2" y="1531" textLength="12" lengthAdjust="spacingAndGlyphs">19</text><text x="1828.2" y="1531" textLength="12" lengthAdjust="spacingAndGlyphs">18</text><text x="1841.1" y="1531" textLength="12" lengthAdjust="spacingAndGlyphs">17</text><text x="1854" y="1531" textLength="12" lengthAdjust="spacingAndGlyphs">16</text><text x="1866.9" y="1531" textLength="12" lengthAdjust="spacingAndGlyphs">15</text><text x="1879.9" y="1531" textLength="12" lengthAdjust="spacingAndGlyphs">14</text><text x="1892.8" y="1531" textLength="12" lengthAdjust="spacingAndGlyphs">13</text><text x="1905.7" y="1531" textLength="12" lengthAdjust="spacingAndGlyphs">12</text><text x="1918.7" y="1531" textLength="12" lengthAdjust="spacingAndGlyphs">11</text><text x="1931.6" y="1531" textLength="12" lengthAdjust="spacingAndGlyphs">10</text><text x="1944.5" y="1531">9</text><text x="1957.4" y="1531">8</text><text x="1970.4" y="1531">7</text><text x="1983.3" y="1531">6</text><text x="1996.2" y="1531">5</text><text x="2009.2" y="1531">4</text><text x="2022.1" y="1531">3</text><text x="2035" y="1531">2</text><text x="2048" y="1531">1</text>
</g>

<!-- Panel G -->
<g transform="translate(0,1560) scale(0.408163,0.333333)" fill="none" stroke-linejoin="round">
<polyline vector-effect="non-scaling-stroke" stroke="#e8202a" stroke-width="2" points="352,315 360,330 372,320 380,310 390,300 398,318 410,265 420,270 430,245 440,250 450,240 462,255 472,225 483,220 490,215 500,200 510,185 520,175 535,160 545,165 560,150 570,140 580,150 595,135 610,130 630,110 640,115 650,105 665,110 675,125 690,120 700,80 705,72 715,95 725,120 735,175 740,210 750,195 760,150 765,135 772,200 778,300 785,360 795,380 800,420 806,365 812,410 818,470 823,560 828,600 833,680 840,710 848,730 853,640 858,580 865,640 870,720 875,620 880,530 887,580 895,700 902,815 908,720 912,660 918,720 923,740 930,660 935,590 940,560 947,540 955,490 960,420 965,330 972,260 978,245 984,280 990,285 996,220 1002,230 1008,220 1013,280 1020,290 1028,220 1035,160 1040,150 1055,150 1065,145 1070,120 1075,150 1080,115 1095,115 1108,130 1120,150 1130,160 1140,145 1150,155 1165,165 1178,170 1185,160 1193,210 1205,200 1215,230 1225,240 1240,260 1245,275 1255,258 1265,265 1275,275 1290,285 1300,295 1310,290 1318,310 1325,335 1335,340 1345,350 1360,360 1375,370 1385,395 1395,385 1405,410 1410,425 1418,405 1425,440 1432,430 1440,445 1450,435"/>
<polyline vector-effect="non-scaling-stroke" stroke="#ffa500" stroke-width="2" points="352,872 365,875 375,868 390,868 400,860 410,852 425,850 440,848 455,845 465,850 475,840 490,835 510,830 530,828 550,825 570,825 590,820 610,820 625,815 640,815 660,815 680,818 695,818 705,805 715,815 725,825 735,845 750,845 760,838 766,832 772,870 778,890 786,915 796,925 805,928 810,920 818,940 825,968 835,1000 845,1015 850,1020 858,970 865,1010 870,1030 880,965 887,985 895,1030 902,1062 908,1040 912,1005 918,1020 925,1035 932,1015 940,995 948,980 955,970 965,920 975,885 985,885 995,865 1005,862 1012,878 1020,880 1030,840 1040,830 1055,825 1070,820 1085,815 1100,818 1120,823 1140,825 1160,828 1180,830 1200,835 1220,842 1240,848 1260,852 1280,858 1300,862 1320,868 1340,875 1360,880 1380,886 1400,893 1420,900 1435,905 1450,905"/>
</g>
<rect x="122.4" y="1570.7" width="489.8" height="360.3" fill="none" stroke="#000" stroke-width="1.4"/>
<g stroke="#000" stroke-width="1.2">
<path d="M145.7 1931v4.5M201.6 1931v4.5M257.1 1931v4.5M312.7 1931v4.5M368.6 1931v4.5M424.5 1931v4.5M480 1931v4.5M535.9 1931v4.5M591.8 1931v4.5"/>
<path d="M118 1590.3h4.4M118 1636.7h4.4M118 1682.7h4.4M118 1729.3h4.4M118 1775.7h4.4M118 1822h4.4M118 1868.3h4.4M118 1914.3h4.4"/>
</g>
<g class="dj" font-size="13" fill="#000">
<g text-anchor="end">
<text x="114" y="1595">1.6</text><text x="114" y="1641.4">1.4</text><text x="114" y="1687.4">1.2</text><text x="114" y="1734">1.0</text><text x="114" y="1780.4">0.8</text><text x="114" y="1826.7">0.6</text><text x="114" y="1873">0.4</text><text x="114" y="1919">0.2</text>
</g>
<g text-anchor="middle">
<text x="145.7" y="1951">−100</text><text x="201.6" y="1951">−75</text><text x="257.1" y="1951">−50</text><text x="312.7" y="1951">−25</text><text x="368.6" y="1951">0</text><text x="424.5" y="1951">25</text><text x="480" y="1951">50</text><text x="535.9" y="1951">75</text><text x="591.8" y="1951">100</text>
<text x="366.5" y="1968" textLength="169" lengthAdjust="spacingAndGlyphs">position relative to motif</text>
<text transform="translate(81.5,1750) rotate(-90)" textLength="133" lengthAdjust="spacingAndGlyphs">average DNA signal</text>
</g>
</g>
<rect x="130" y="1879" width="191" height="45" rx="3" fill="#fff" fill-opacity=".85" stroke="#cccccc" stroke-width="1"/>
<line x1="135" y1="1890" x2="163" y2="1890" stroke="#e8202a" stroke-width="2"/>
<line x1="135" y1="1911" x2="163" y2="1911" stroke="#ffa500" stroke-width="2"/>
<g class="dj" font-size="12.5" fill="#000">
<text x="173.5" y="1894.5" textLength="135.5" lengthAdjust="spacingAndGlyphs">DNAse within peaks</text>
<text x="173.5" y="1915.5" textLength="141.5" lengthAdjust="spacingAndGlyphs">DNAse genome wide</text>
</g>

<!-- Panel H -->
<g transform="translate(620,1560) scale(0.433673,0.333333)" fill="none" stroke-linejoin="round">
<polyline vector-effect="non-scaling-stroke" stroke="#87ceeb" stroke-width="2" points="352,125 370,128 390,130 410,140 425,146 445,148 465,153 480,160 500,168 520,178 540,190 560,205 580,218 600,225 615,238 630,258 645,280 660,305 675,325 690,348 705,368 718,378 735,378 750,365 760,335 770,270 780,200 790,160 800,135 808,128 815,140 825,150 838,170 848,210 858,280 868,355 878,405 890,445 905,470 920,475 935,468 950,455 965,435 980,420 995,400 1010,380 1025,365 1040,352 1060,340 1080,325 1100,312 1120,300 1140,288 1160,280 1180,277 1200,272 1220,265 1240,260 1260,258 1280,258 1300,255 1320,255 1340,258 1360,260 1380,262"/>
<polyline vector-effect="non-scaling-stroke" stroke="#3b4ca6" stroke-width="2" points="352,387 370,387 385,390 400,395 415,400 430,403 445,402 460,392 475,390 490,398 500,408 520,415 535,433 550,442 570,445 590,438 605,450 620,460 632,480 645,500 660,530 675,565 688,600 700,660 712,680 722,710 735,735 745,752 755,758 765,660 775,450 785,210 795,85 805,105 812,190 818,260 825,235 832,205 838,190 848,320 858,480 868,620 878,790 887,822 895,805 905,785 918,755 930,735 940,700 950,670 962,640 975,615 990,590 1010,565 1025,574 1040,572 1055,575 1070,577 1085,570 1100,555 1115,540 1130,530 1145,530 1160,525 1180,523 1200,515 1220,512 1240,508 1260,505 1280,507 1300,502 1320,500 1340,501 1360,505 1380,508"/>
<polyline vector-effect="non-scaling-stroke" stroke="#ffa500" stroke-width="2" points="352,472 380,480 410,492 440,505 470,515 500,528 520,542 540,560 560,578 580,598 600,620 620,645 640,670 660,700 680,730 700,760 720,790 740,806 755,806 770,785 785,750 797,743 805,750 815,762 830,765 840,770 850,790 860,815 870,845 880,860 895,870 910,872 925,868 940,858 960,840 980,818 1000,795 1020,770 1040,750 1060,725 1080,700 1100,682 1120,665 1140,650 1160,638 1180,628 1200,622 1220,617 1240,612 1260,602 1280,595 1300,590 1320,586 1340,583 1360,582 1380,580"/>
<polyline vector-effect="non-scaling-stroke" stroke="#e8202a" stroke-width="2" points="352,683 375,683 390,692 410,696 430,705 450,710 470,710 490,725 510,738 530,750 545,760 560,770 580,780 600,795 620,815 635,835 650,850 665,870 680,890 695,925 705,960 720,985 740,1000 755,1030 765,980 775,900 785,800 795,778 805,800 815,905 825,880 832,840 838,820 848,890 858,970 868,1050 878,1075 890,1075 905,1055 920,1040 935,1035 945,1010 960,990 975,975 990,960 1005,945 1020,940 1035,930 1050,920 1070,905 1090,895 1110,885 1130,875 1145,870 1160,860 1180,845 1200,840 1220,835 1240,830 1260,822 1280,815 1300,810 1320,805 1340,800 1360,798 1380,796"/>
</g>
<rect x="751.4" y="1574" width="490" height="361.3" fill="none" stroke="#000" stroke-width="1.4"/>
<g stroke="#000" stroke-width="1.2">
<path d="M819.5 1935.3v4.5M908 1935.3v4.5M996.4 1935.3v4.5M1085.3 1935.3v4.5M1174.2 1935.3v4.5"/>
<path d="M747 1586h4.4M747 1628.3h4.4M747 1671h4.4M747 1713.3h4.4M747 1756h4.4M747 1798.3h4.4M747 1840.7h4.4M747 1883.3h4.4M747 1926h4.4"/>
</g>
<g class="dj" font-size="13" fill="#000">
<g text-anchor="end">
<text x="742.5" y="1590.7">0.300</text><text x="742.5" y="1633">0.275</text><text x="742.5" y="1675.7">0.250</text><text x="742.5" y="1718">0.225</text><text x="742.5" y="1760.7">0.200</text><text x="742.5" y="1803">0.175</text><text x="742.5" y="1845.4">0.150</text><text x="742.5" y="1888">0.125</text><text x="742.5" y="1930.7">0.100</text>
</g>
<g text-anchor="middle">
<text x="819.5" y="1955">−40</text><text x="908" y="1955">−20</text><text x="996.4" y="1955">0</text><text x="1085.3" y="1955">20</text><text x="1174.2" y="1955">40</text>
<text x="995" y="1972" textLength="169" lengthAdjust="spacingAndGlyphs">position relative to motif</text>
<text transform="translate(691,1754) rotate(-90)" textLength="128" lengthAdjust="spacingAndGlyphs">conservation score</text>
</g>
</g>
<rect x="758.8" y="1841.7" width="236.2" height="86.6" rx="3" fill="#fff" fill-opacity=".8" stroke="#cccccc" stroke-width="1"/>
<g stroke-width="2">
<line x1="763.5" y1="1853.3" x2="792.5" y2="1853.3" stroke="#3b4ca6"/>
<line x1="763.5" y1="1874" x2="792.5" y2="1874" stroke="#87ceeb"/>
<line x1="763.5" y1="1894.3" x2="792.5" y2="1894.3" stroke="#e8202a"/>
<line x1="763.5" y1="1915.3" x2="792.5" y2="1915.3" stroke="#ffa500"/>
</g>
<g class="dj" font-size="13" fill="#000">
<text x="802" y="1858" textLength="187.5" lengthAdjust="spacingAndGlyphs">phastCons100way in peaks</text>
<text x="802" y="1878.7" textLength="178.7" lengthAdjust="spacingAndGlyphs">phastCons30way in peaks</text>
<text x="802" y="1899" textLength="125" lengthAdjust="spacingAndGlyphs">phastCons100way</text>
<text x="802" y="1920" textLength="116.3" lengthAdjust="spacingAndGlyphs">phastCons30way</text>
</g>

<!-- Panel I -->
<g transform="translate(1290,1560) scale(0.382653,0.333333)" fill="none" stroke-linejoin="round">
<polyline vector-effect="non-scaling-stroke" stroke="#3b4ca6" stroke-width="2" points="290,515 305,510 320,508 332,508 340,497 350,525 365,525 380,525 395,522 405,520 418,522 432,520 440,518 452,525 465,528 480,525 495,532 505,550 520,548 535,555 545,552 560,540 570,548 585,545 595,545 605,572 620,578 635,585 645,600 655,595 662,615 672,660 685,715 698,655 710,690 722,685 735,735 745,885 755,845 765,720 775,580 782,420 792,85 803,160 810,540 818,820 828,460 838,175 848,440 860,450 868,530 878,760 886,880 898,860 908,700 920,725 932,712 940,728 952,745 965,665 978,635 990,645 1002,630 1015,620 1028,628 1038,570 1050,595 1060,635 1070,625 1085,633 1100,635 1115,630 1130,625 1145,620 1160,612 1172,610 1185,600 1198,615 1210,610 1222,600 1235,608 1250,600 1265,605 1278,598 1290,592 1305,588 1320,590 1335,605 1350,598 1365,592 1380,580 1395,588 1410,578 1425,582 1440,582 1455,575"/>
<polyline vector-effect="non-scaling-stroke" stroke="#87ceeb" stroke-width="2" points="290,570 305,568 320,565 335,563 350,570 365,578 380,572 395,568 410,572 425,575 440,572 455,568 470,575 485,568 500,575 515,580 530,585 545,578 560,582 575,578 590,585 600,590 615,600 630,605 645,595 660,605 670,612 680,650 690,670 698,632 708,645 720,652 730,695 745,725 755,680 765,590 780,420 790,335 800,380 810,600 822,520 830,400 838,380 848,450 858,480 868,560 878,660 886,735 895,730 905,652 915,672 925,660 938,655 950,665 962,640 975,615 990,622 1005,615 1020,610 1035,580 1050,610 1065,605 1080,600 1100,610 1120,605 1140,600 1160,602 1180,598 1200,600 1220,600 1240,595 1260,596 1280,593 1300,590 1320,595 1340,600 1360,595 1380,590 1400,590 1420,592 1440,600 1455,588"/>
<polyline vector-effect="non-scaling-stroke" stroke="#e8202a" stroke-width="2" points="290,585 300,575 315,565 325,590 335,580 348,575 360,600 370,590 385,585 398,605 410,595 425,598 435,610 445,600 460,618 475,622 490,610 500,640 515,632 525,642 535,655 545,650 558,640 570,660 582,658 595,690 610,690 620,688 630,715 645,720 655,730 665,765 678,815 690,755 700,800 710,780 720,770 730,825 745,945 755,860 765,760 775,680 782,610 792,520 803,590 810,760 818,1080 828,810 840,520 848,680 858,680 868,740 876,830 885,985 895,940 905,800 915,815 928,825 940,815 952,855 965,800 978,775 990,795 1002,775 1015,775 1028,778 1040,760 1050,720 1060,775 1070,750 1085,745 1100,738 1112,728 1125,740 1140,722 1155,710 1170,715 1185,700 1198,712 1210,695 1225,690 1238,685 1250,675 1265,683 1278,670 1290,665 1305,678 1318,660 1330,668 1345,655 1360,650 1372,668 1385,655 1398,640 1410,658 1422,650 1435,640 1445,648 1455,642"/>
<polyline vector-effect="non-scaling-stroke" stroke="#ffa500" stroke-width="2" points="290,655 305,652 318,648 332,658 345,648 360,660 375,658 390,660 405,655 420,662 435,668 450,665 465,672 480,672 490,660 505,680 520,678 535,685 548,682 560,688 572,685 585,695 600,705 615,710 630,712 645,720 660,740 672,750 685,790 698,752 708,795 720,775 732,790 745,860 758,820 768,740 780,690 792,620 803,690 812,800 818,950 828,830 840,625 850,690 860,700 870,760 880,860 890,880 900,850 910,790 920,800 932,785 945,800 955,795 968,775 980,770 992,775 1005,765 1018,768 1032,758 1045,735 1058,745 1070,725 1085,727 1100,718 1115,715 1128,712 1140,700 1155,696 1170,695 1185,690 1200,688 1215,692 1230,685 1245,683 1260,680 1275,680 1290,677 1305,678 1320,673 1335,673 1350,670 1365,668 1380,660 1395,652 1410,665 1425,660 1440,668 1455,662"/>
</g>
<rect x="1379.2" y="1575" width="490.5" height="361" fill="none" stroke="#000" stroke-width="1.4"/>
<g stroke="#000" stroke-width="1.2">
<path d="M1446.9 1936v4.5M1535.7 1936v4.5M1624 1936v4.5M1712.8 1936v4.5M1802 1936v4.5"/>
<path d="M1374.8 1614.3h4.4M1374.8 1675.3h4.4M1374.8 1735.7h4.4M1374.8 1795.3h4.4M1374.8 1855.7h4.4M1374.8 1916h4.4"/>
</g>
<g class="dj" font-size="13" fill="#000">
<g text-anchor="end">
<text x="1370" y="1619">0.6</text><text x="1370" y="1680">0.4</text><text x="1370" y="1740.4">0.2</text><text x="1370" y="1800">0.0</text><text x="1370" y="1860.4">−0.2</text><text x="1370" y="1920.7">−0.4</text>
</g>
<g text-anchor="middle">
<text x="1446.9" y="1956">−40</text><text x="1535.7" y="1956">−20</text><text x="1624" y="1956">0</text><text x="1712.8" y="1956">20</text><text x="1802" y="1956">40</text>
<text x="1623.7" y="1973" textLength="169" lengthAdjust="spacingAndGlyphs">position relative to motif</text>
<text transform="translate(1326,1754.5) rotate(-90)" textLength="129" lengthAdjust="spacingAndGlyphs">conservation score</text>
</g>
</g>
<rect x="1651.7" y="1582.3" width="210.3" height="83.7" rx="3" fill="#fff" fill-opacity=".85" stroke="#cccccc" stroke-width="1"/>
<g stroke-width="2">
<line x1="1656.2" y1="1591" x2="1686" y2="1591" stroke="#3b4ca6"/>
<line x1="1656.2" y1="1611.7" x2="1686" y2="1611.7" stroke="#87ceeb"/>
<line x1="1656.2" y1="1632.3" x2="1686" y2="1632.3" stroke="#e8202a"/>
<line x1="1656.2" y1="1652.7" x2="1686" y2="1652.7" stroke="#ffa500"/>
</g>
<g class="dj" font-size="13" fill="#000">
<text x="1695.7" y="1595.5" textLength="160.7" lengthAdjust="spacingAndGlyphs">phyloP100way in peaks</text>
<text x="1695.7" y="1616.2" textLength="153" lengthAdjust="spacingAndGlyphs">phyloP30way in peaks</text>
<text x="1695.7" y="1636.8" textLength="98.7" lengthAdjust="spacingAndGlyphs">phyloP100way</text>
<text x="1695.7" y="1657.2" textLength="90" lengthAdjust="spacingAndGlyphs">phyloP30way</text>
</g>
</svg>
</body></html>
